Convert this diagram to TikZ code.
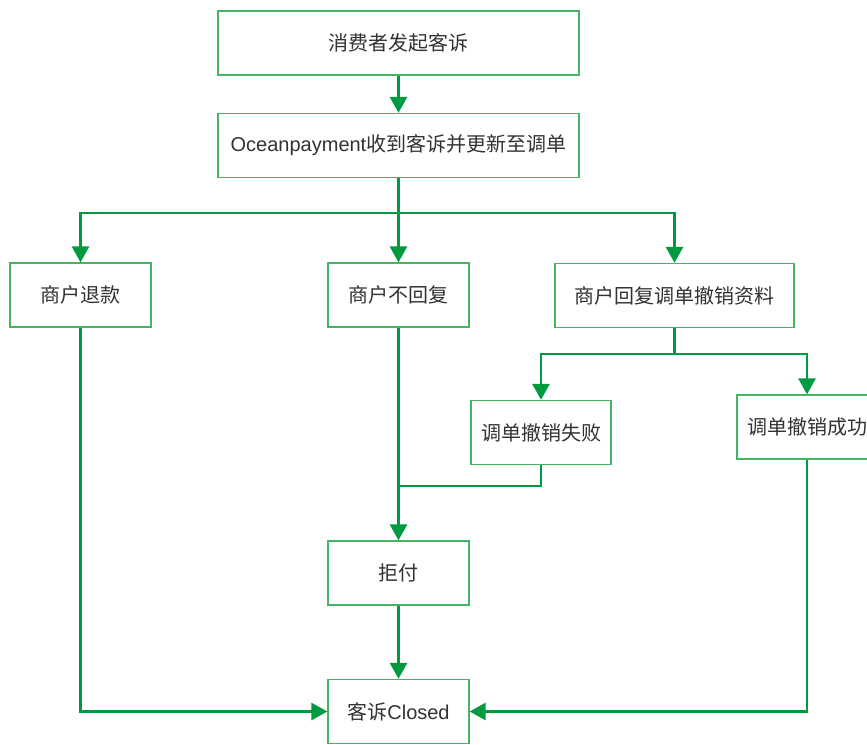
\documentclass[tikz,border=0pt]{standalone}
\usepackage{fontspec}
\setmainfont{Liberation Sans}
\newfontfamily\cjk{Noto Sans CJK SC}
\usetikzlibrary{arrows.meta}
\definecolor{lg}{RGB}{0,155,65}
\definecolor{bx}{RGB}{70,180,100}
\definecolor{tx}{RGB}{50,50,50}
\tikzset{
  box/.style={draw=bx, line width=1.3pt, fill=white, text=tx, minimum height=64pt, inner sep=0pt, font=\fontsize{20}{24}\selectfont},
  conn/.style={draw=lg, line width=2.8pt},
  arr/.style={conn, -{Triangle[width=17pt,length=16pt]}}
}
\begin{document}
\begin{tikzpicture}[x=1pt,y=-1pt]
\useasboundingbox (0,0) rectangle (867,744);
\clip (0,0) rectangle (867,744);
\fill[white] (0,0) rectangle (867,744);
\node[box, minimum width=361pt] (a) at (398.5,43) {\cjk 消费者发起客诉};
\node[box, minimum width=361pt] (b) at (398.5,145.5) {Oceanpayment\cjk 收到客诉并更新至调单};
\node[box, minimum width=141pt] (c) at (80.5,295) {\cjk 商户退款};
\node[box, minimum width=141pt] (d) at (398.5,295) {\cjk 商户不回复};
\node[box, minimum width=239pt] (e) at (674.5,295.5) {\cjk 商户回复调单撤销资料};
\node[box, minimum width=140pt] (f) at (541,432.5) {\cjk 调单撤销失败};
\node[box, minimum width=140pt, text width=140pt, align=left] (g) at (807,427) {\hspace{10pt}\cjk 调单撤销成功};
\node[box, minimum width=141pt] (h) at (398.5,573) {\cjk 拒付};
\node[box, minimum width=141pt] (i) at (398.5,711.5) {\cjk 客诉\rmfamily Closed};
\coordinate (bus1) at (398.5,213);
\coordinate (bus2) at (674.5,354);
\coordinate (join) at (398.5,486);
\draw[arr] (a) -- (b);
\draw[arr] (b) -- (d);
\draw[conn] (b.south) -- (bus1);
\draw[arr] (bus1) -| (c.north);
\draw[arr] (bus1) -| (e.north);
\draw[conn] (e.south) -- (bus2);
\draw[arr] (bus2) -| (f.north);
\draw[arr] (bus2) -| (g.north);
\draw[arr] (d) -- (h);
\draw[conn] (f.south) |- (join);
\draw[arr] (h) -- (i);
\draw[arr] (c.south) |- (i.west);
\draw[arr] (g.south) |- (i.east);
\end{tikzpicture}
\end{document}
